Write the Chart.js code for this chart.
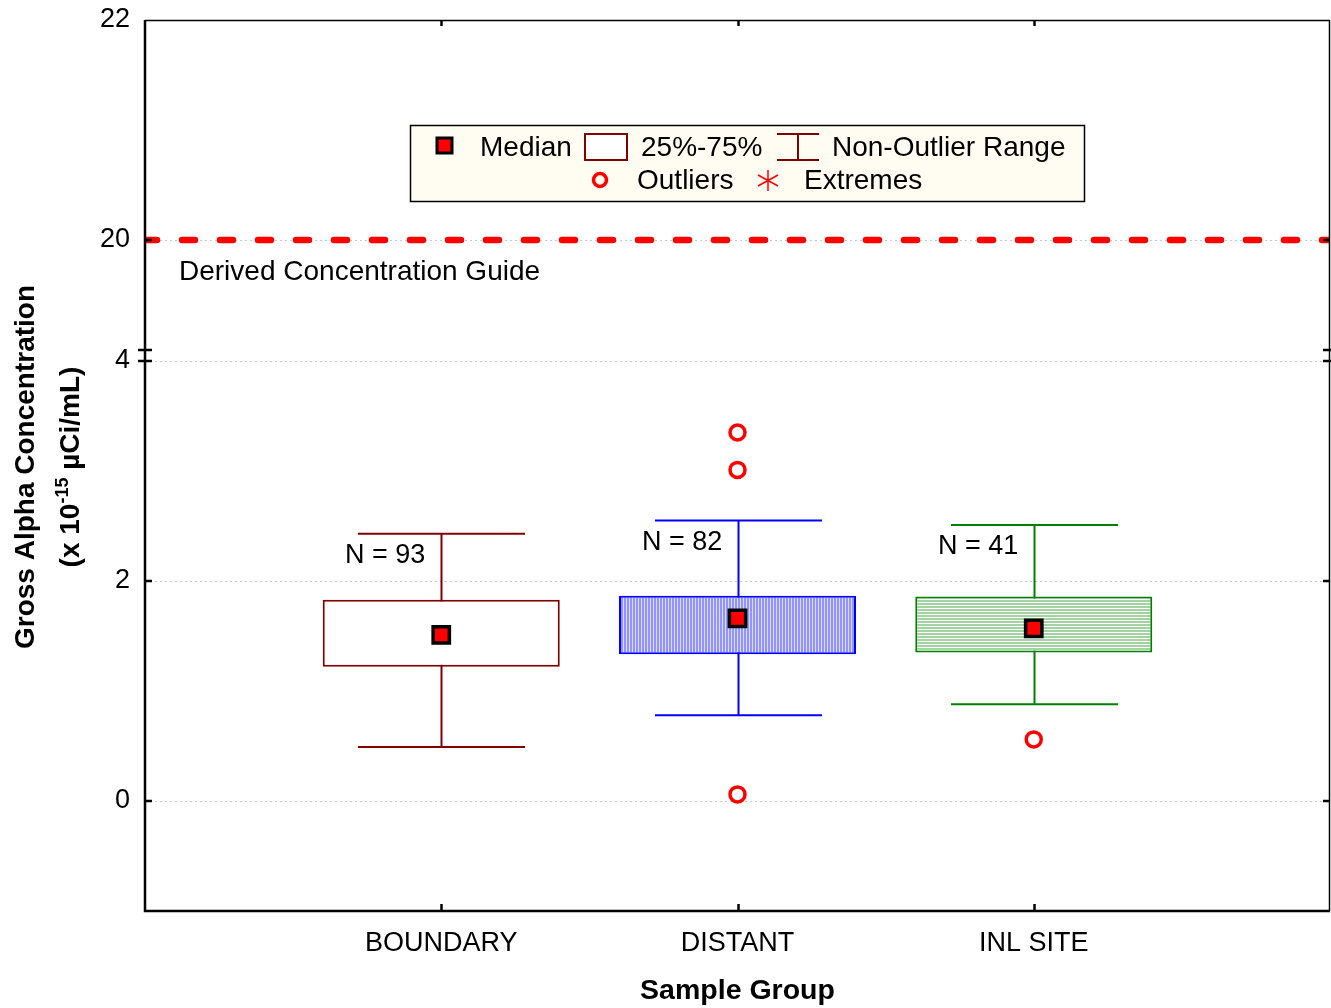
<!DOCTYPE html>
<html lang="en">
<head>
  <meta charset="UTF-8">
  <title>Gross Alpha Concentration by Sample Group</title>
  <script src="https://cdn.jsdelivr.net/npm/chart.js"></script>
  <style>
    body {
      margin: 0;
      background: #ffffff;
      overflow: hidden;
    }
    canvas {
      display: block;
    }
  </style>
</head>
<body>

<canvas id="boxChart" width="1331" height="1008"></canvas>

<script>
  // data
  const groups = ['BOUNDARY', 'DISTANT', 'INL SITE'];
  const counts = [93, 82, 41];
  const medians = [1.51, 1.66, 1.57];
  const q1 = [1.22, 1.335, 1.35];
  const q3 = [1.83, 1.865, 1.86];
  const whiskerLow = [0.49, 0.78, 0.88];
  const whiskerHigh = [2.43, 2.55, 2.51];
  const outliers = [[], [3.35, 3.01, 0.06], [0.56]];
  const dcgValue = 20;
  const yTickValues = [0, 2, 4, 20, 22];

  // broken axis: lower part -1..4, upper part 19..22
  const LOWER_MAX = 4;
  const UPPER_MIN = 19;
  const UPPER_SHIFT = 5.1 - 20;   // display value of 20 is 5.1
  const toAxis = v => v > LOWER_MAX + 1 ? v + UPPER_SHIFT : v;

  const groupColors = ['#800000', '#0000ff', '#008000'];
  const FONT = "'Liberation Sans', Arial, sans-serif";

  function stripePattern(vertical, lineColor, gapColor) {
    const c = document.createElement('canvas');
    c.width = vertical ? 3 : 1;
    c.height = vertical ? 1 : 3;
    const g = c.getContext('2d');
    g.fillStyle = gapColor;
    g.fillRect(0, 0, c.width, c.height);
    g.fillStyle = lineColor;
    if (vertical) g.fillRect(0, 0, 2, 1); else g.fillRect(0, 0, 1, 2);
    return g.createPattern(c, 'repeat');
  }

  const axisLabels = [''].concat(groups, ['']);
  const boxFills = ['#ffffff', stripePattern(true, '#9494ff', '#dcdcff'), stripePattern(false, '#a3d3a3', '#ffffff')];

  const outlierPoints = [];
  outliers.forEach((list, i) => list.forEach(v => outlierPoints.push({ x: groups[i], y: toAxis(v) })));

  function noPad(scale) {
    scale.paddingTop = 0;
    scale.paddingBottom = 0;
    scale.paddingLeft = 0;
    scale.paddingRight = 0;
  }

  const boxPlotPlugin = {
    id: 'boxPlotExtras',
    afterLayout(chart) {
      // plot frame runs to 1px from the right edge of the canvas
      const xs = chart.scales.x;
      const right = chart.width - 1;
      chart.chartArea.right = right;
      chart.chartArea.width = right - chart.chartArea.left;
      xs.right = right;
      xs.width = right - xs.left;
      xs.configure();
    },
    beforeDatasetsDraw(chart) {
      const ctx = chart.ctx;
      const area = chart.chartArea;
      const xs = chart.scales.x, ys = chart.scales.y;
      ctx.save();
      ctx.beginPath();
      ctx.rect(area.left, area.top, area.right - area.left, area.bottom - area.top);
      ctx.clip();

      // dotted grid
      ctx.strokeStyle = '#c8c8c8';
      ctx.lineWidth = 1;
      ctx.setLineDash([2, 3]);
      yTickValues.slice(0, -1).forEach(v => {
        const y = Math.round(ys.getPixelForValue(toAxis(v))) + 0.5;
        ctx.beginPath();
        ctx.moveTo(area.left, y);
        ctx.lineTo(area.right, y);
        ctx.stroke();
      });

      // derived concentration guide
      const yd = ys.getPixelForValue(toAxis(dcgValue));
      ctx.strokeStyle = '#ff0000';
      ctx.lineWidth = 6.5;
      ctx.lineCap = 'round';
      ctx.setLineDash([13, 25]);
      ctx.beginPath();
      ctx.moveTo(area.left - 1, yd);
      ctx.lineTo(area.right + 10, yd);
      ctx.stroke();
      ctx.setLineDash([]);
      ctx.lineCap = 'butt';

      ctx.fillStyle = '#000';
      ctx.font = '28px ' + FONT;
      ctx.textBaseline = 'middle';
      ctx.textAlign = 'left';
      ctx.fillText('Derived Concentration Guide', area.left + 34, yd + 32);

      // whiskers
      const step = xs.getPixelForValue(2) - xs.getPixelForValue(1);
      const capHalf = step * 0.282;
      ctx.lineWidth = 2;
      groups.forEach((g, i) => {
        const x = Math.round(xs.getPixelForValue(i + 1)) + 0.5;
        const yLo = ys.getPixelForValue(whiskerLow[i]);
        const yHi = ys.getPixelForValue(whiskerHigh[i]);
        ctx.strokeStyle = groupColors[i];
        ctx.beginPath();
        ctx.moveTo(x, yLo); ctx.lineTo(x, yHi);
        ctx.moveTo(x - capHalf, yLo); ctx.lineTo(x + capHalf, yLo);
        ctx.moveTo(x - capHalf, yHi); ctx.lineTo(x + capHalf, yHi);
        ctx.stroke();

        ctx.fillStyle = '#000';
        ctx.font = '27px ' + FONT;
        ctx.textAlign = 'center';
        ctx.fillText('N = ' + counts[i], x - step * 0.19, ys.getPixelForValue(whiskerHigh[i] - 0.2));
      });
      ctx.restore();
    },
    afterDraw(chart) {
      const ctx = chart.ctx;
      const a = chart.chartArea;
      const xs = chart.scales.x, ys = chart.scales.y;
      ctx.save();

      // frame
      ctx.strokeStyle = '#000';
      ctx.lineWidth = 1.5;
      ctx.beginPath();
      ctx.moveTo(a.left, a.top + 0.5); ctx.lineTo(a.right, a.top + 0.5);
      ctx.moveTo(a.right - 0.5, a.top); ctx.lineTo(a.right - 0.5, a.bottom);
      ctx.stroke();
      ctx.lineWidth = 2.5;
      ctx.beginPath();
      ctx.moveTo(a.left, a.top); ctx.lineTo(a.left, a.bottom);
      ctx.lineTo(a.right, a.bottom);
      ctx.stroke();

      // inward ticks
      ctx.lineWidth = 2.5;
      ctx.beginPath();
      yTickValues.slice(0, -1).forEach(v => {
        const y = Math.round(ys.getPixelForValue(toAxis(v)));
        ctx.moveTo(a.left, y); ctx.lineTo(a.left + 7, y);
        ctx.moveTo(a.right, y); ctx.lineTo(a.right - 7, y);
      });
      groups.forEach((g, i) => {
        const x = Math.round(xs.getPixelForValue(i + 1)) + 0.5;
        ctx.moveTo(x, a.bottom); ctx.lineTo(x, a.bottom - 7);
        ctx.moveTo(x, a.top); ctx.lineTo(x, a.top + 6);
      });
      // axis break marks
      [LOWER_MAX, UPPER_MIN + UPPER_SHIFT].forEach(v => {
        const y = Math.round(ys.getPixelForValue(v));
        ctx.moveTo(a.left - 7, y); ctx.lineTo(a.left + 7, y);
        ctx.moveTo(a.right - 7, y); ctx.lineTo(a.right + 3, y);
      });
      ctx.stroke();

      // y axis title
      ctx.fillStyle = '#000';
      ctx.textAlign = 'left';
      ctx.textBaseline = 'alphabetic';
      const midY = (a.top + a.bottom) / 2 + 1.5;
      const bold = 'bold 28px ' + FONT;
      ctx.font = bold;
      const line1 = 'Gross Alpha Concentration';
      ctx.save();
      ctx.translate(34, midY);
      ctx.rotate(-Math.PI / 2);
      ctx.fillText(line1, -ctx.measureText(line1).width / 2, 0);
      ctx.restore();

      const parts = [
        { t: '(x 10', f: bold, dy: 0 },
        { t: '-15', f: 'bold 18px ' + FONT, dy: -11 },
        { t: ' \u00b5Ci/mL)', f: bold, dy: 0 }
      ];
      let total = 0;
      parts.forEach(p => { ctx.font = p.f; p.w = ctx.measureText(p.t).width; total += p.w; });
      ctx.save();
      ctx.translate(79, midY);
      ctx.rotate(-Math.PI / 2);
      let px = -total / 2;
      parts.forEach(p => { ctx.font = p.f; ctx.fillText(p.t, px, p.dy); px += p.w; });
      ctx.restore();

      // legend box
      ctx.fillStyle = '#fffcf2';
      ctx.fillRect(410, 125, 674, 76);
      ctx.lineWidth = 1.5;
      ctx.strokeStyle = '#000';
      ctx.strokeRect(410.5, 125.5, 674, 76);

      ctx.fillStyle = '#ff0000';
      ctx.fillRect(437, 138, 15, 15);
      ctx.lineWidth = 3;
      ctx.strokeRect(437, 138, 15, 15);

      ctx.strokeStyle = '#800000';
      ctx.lineWidth = 2;
      ctx.fillStyle = '#ffffff';
      ctx.fillRect(585, 134, 42, 26);
      ctx.strokeRect(585, 134, 42, 26);
      ctx.beginPath();
      ctx.moveTo(777, 134); ctx.lineTo(819, 134);
      ctx.moveTo(777, 160); ctx.lineTo(819, 160);
      ctx.moveTo(798, 134); ctx.lineTo(798, 160);
      ctx.stroke();

      ctx.strokeStyle = '#ff0000';
      ctx.lineWidth = 3.5;
      ctx.beginPath();
      ctx.arc(600, 180, 6.5, 0, Math.PI * 2);
      ctx.stroke();
      ctx.lineWidth = 1.5;
      ctx.beginPath();
      ctx.moveTo(768, 170); ctx.lineTo(768, 191);
      ctx.moveTo(758, 175); ctx.lineTo(778, 186);
      ctx.moveTo(758, 186); ctx.lineTo(778, 175);
      ctx.stroke();

      ctx.fillStyle = '#000';
      ctx.font = '28px ' + FONT;
      ctx.textBaseline = 'middle';
      ctx.fillText('Median', 480, 148);
      ctx.fillText('25%-75%', 641, 148);
      ctx.fillText('Non-Outlier Range', 832, 148);
      ctx.fillText('Outliers', 637, 181);
      ctx.fillText('Extremes', 804, 181);
      ctx.restore();
    }
  };

  const ctx = document.getElementById('boxChart').getContext('2d');
  const boxChart = new Chart(ctx, {
    data: {
      labels: axisLabels,
      datasets: [
        {
          type: 'bar',
          data: groups.map((g, i) => ({ x: g, y: [q1[i], q3[i]] })),
          backgroundColor: boxFills,
          borderColor: groupColors,
          borderWidth: 2,
          borderSkipped: false,
          barPercentage: 0.8,
          categoryPercentage: 1.0,
          order: 3
        },
        {
          type: 'line',
          data: groups.map((g, i) => ({ x: g, y: toAxis(medians[i]) })),
          showLine: false,
          pointStyle: 'rect',
          pointRadius: 11.5,
          pointBackgroundColor: '#ff0000',
          pointBorderColor: '#000000',
          pointBorderWidth: 3.5,
          order: 1
        },
        {
          type: 'line',
          data: outlierPoints,
          showLine: false,
          pointStyle: 'circle',
          pointRadius: 7.5,
          pointBackgroundColor: '#ffffff',
          pointBorderColor: '#ff0000',
          pointBorderWidth: 3.5,
          order: 2
        }
      ]
    },
    options: {
      responsive: false,
      animation: false,
      events: [],
      layout: { padding: { top: 20, right: 1, left: 0, bottom: 0 } },
      plugins: {
        legend: { display: false },
        tooltip: { enabled: false }
      },
      scales: {
        x: {
          type: 'category',
          offset: false,
          grid: { display: false, drawTicks: false },
          border: { display: false },
          ticks: {
            autoSkip: false,
            maxRotation: 0,
            color: '#000',
            padding: 16,
            font: { family: FONT, size: 27 }
          },
          title: {
            display: true,
            text: 'Sample Group',
            color: '#000',
            padding: { top: 0, bottom: 0 },
            font: { family: FONT, size: 28.5, weight: 'bold' }
          },
          afterFit(scale) { scale.height = 97; noPad(scale); }
        },
        y: {
          type: 'linear',
          min: -1,
          max: 7.1,
          grid: { display: false, drawTicks: false },
          border: { display: false },
          afterBuildTicks(scale) {
            scale.ticks = yTickValues.map(v => ({ value: toAxis(v) }));
          },
          ticks: {
            color: '#000',
            padding: 15,
            font: { family: FONT, size: 27 },
            callback(value) {
              const i = yTickValues.findIndex(v => Math.abs(toAxis(v) - value) < 1e-6);
              return i >= 0 ? String(yTickValues[i]) : '';
            }
          },
          afterFit(scale) { scale.width = 145; noPad(scale); }
        }
      }
    },
    plugins: [boxPlotPlugin]
  });
</script>

</body>
</html>
